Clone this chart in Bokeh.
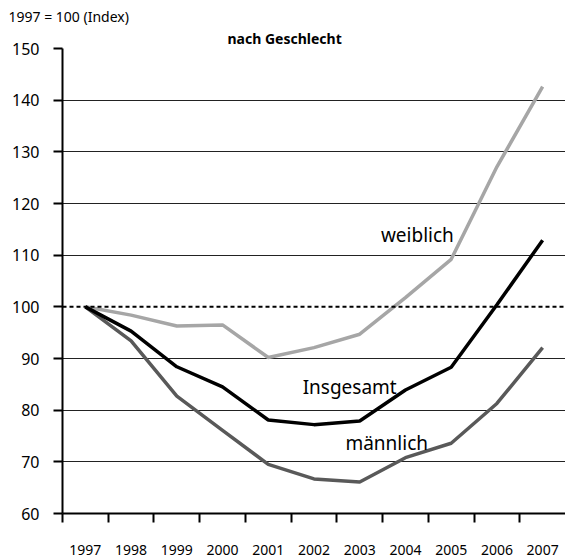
from bokeh.plotting import figure
from bokeh.models import Range1d, FixedTicker, Span, Label, Title
from bokeh.embed import file_html
from bokeh.resources import INLINE

# ---- data -------------------------------------------------------------
years = [1997, 1998, 1999, 2000, 2001, 2002, 2003, 2004, 2005, 2006, 2007]
insgesamt = [100, 95.3, 88.4, 84.5, 78.1, 77.2, 77.9, 83.9, 88.3, 100.4, 112.9]
weiblich = [100, 98.4, 96.3, 96.5, 90.2, 92.1, 94.7, 101.8, 109.2, 127.1, 142.6]
maennlich = [100, 93.4, 82.7, 76.1, 69.5, 66.7, 66.1, 70.8, 73.6, 81.3, 92.1]
y_ticks = [60, 70, 80, 90, 100, 110, 120, 130, 140, 150]
baseline = 100
title_text = "nach Geschlecht"
subtitle_text = "1997 = 100 (Index)"

FONT = "Noto Sans"

p = figure(width=565, height=559, output_backend="svg", toolbar_location=None,
           x_range=Range1d(years[0] - 0.5, years[-1] + 0.5),
           y_range=Range1d(60, 150),
           min_border_left=62, min_border_right=0, min_border_top=48, min_border_bottom=46,
           outline_line_color=None, background_fill_color="white", border_fill_color="white")

# x axis: boundary ticks (minor), labels centred in categories
p.xaxis.ticker = FixedTicker(ticks=years, minor_ticks=[y - 0.5 for y in years])
p.xaxis.major_tick_line_color = None
p.xaxis.major_tick_out = 9
p.xaxis.major_tick_in = 0
p.xaxis.minor_tick_line_color = "black"
p.xaxis.minor_tick_line_width = 2
p.xaxis.minor_tick_out = 9
p.xaxis.minor_tick_in = 0
p.xaxis.axis_line_width = 2
p.xaxis.axis_line_color = "black"
p.xaxis.major_label_standoff = 22
p.xaxis.major_label_text_font = FONT
p.xaxis.major_label_text_font_size = "14px"
p.xaxis.major_label_text_color = "black"

p.yaxis.ticker = FixedTicker(ticks=y_ticks)
p.yaxis.minor_tick_line_color = None
p.yaxis.major_tick_out = 9
p.yaxis.major_tick_in = 0
p.yaxis.major_tick_line_width = 2
p.yaxis.major_tick_line_color = "black"
p.yaxis.axis_line_width = 2
p.yaxis.axis_line_color = "black"
p.yaxis.major_label_standoff = 14
p.yaxis.major_label_text_font = FONT
p.yaxis.major_label_text_font_size = "16px"
p.yaxis.major_label_text_color = "black"

p.xgrid.visible = False
p.ygrid.ticker = FixedTicker(ticks=[t for t in y_ticks if t not in (60, baseline)])
p.ygrid.grid_line_color = "#222222"
p.ygrid.grid_line_width = 1

p.add_layout(Span(location=baseline, dimension="width", line_color="black",
                  line_width=2, line_dash="4 3"))

p.line(years, weiblich, line_color="#a6a6a6", line_width=3.5)
p.line(years, maennlich, line_color="#595959", line_width=3.5)
p.line(years, insgesamt, line_color="black", line_width=3.5)

def lab(x, y, t, size, align="center", style="normal"):
    p.add_layout(Label(x=x, y=y, text=t, text_font=FONT, text_font_size=size,
                       text_align=align, text_baseline="alphabetic",
                       text_font_style=style, text_color="black"))

lab(2004.26, 113.87, "weiblich", "19px")
lab(2002.78, 84.5, "Insgesamt", "19px")
lab(2003.59, 73.67, "männlich", "19px")

# main title panel (closest to the frame), subtitle panel above it
p.add_layout(Title(text=title_text, align="left", offset=165, standoff=2,
                   text_font=FONT, text_font_size="14px", text_font_style="bold",
                   text_color="black"), "above")
p.add_layout(Title(text=subtitle_text, align="left", offset=-54, standoff=0,
                   text_font=FONT, text_font_size="14px", text_font_style="normal",
                   text_color="black"), "above")

open("out.html", "w").write(file_html(p, INLINE))
